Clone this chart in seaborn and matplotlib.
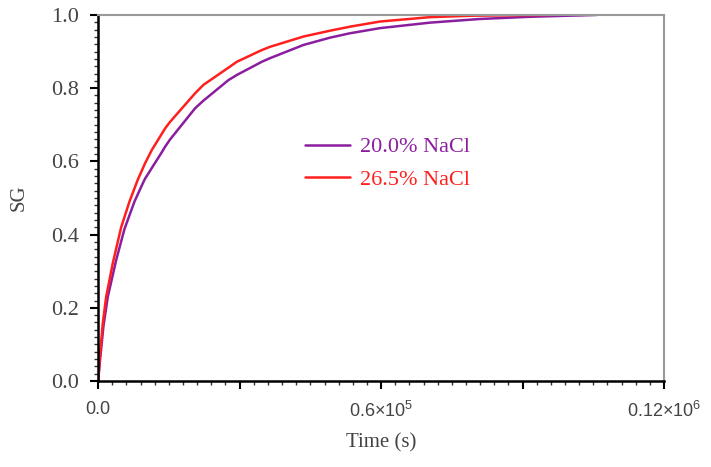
import numpy as np
import pandas as pd
import matplotlib
matplotlib.use("Agg")
import matplotlib.pyplot as plt
import seaborn as sns
from matplotlib.ticker import MultipleLocator, FixedLocator, FixedFormatter

# Data
time_20 = [0, 424, 1130, 2050, 3820, 5580, 7700, 9470, 9960, 13500, 14200, 15260, 20560, 22330,
           27630, 29400, 34700, 36460, 43530, 49180, 53420, 59780, 70380, 80980, 91580, 105700]
sg_20 = [0.0, 0.06, 0.15, 0.230, 0.330, 0.415, 0.490, 0.540, 0.553, 0.625, 0.640, 0.660, 0.745, 0.766,
         0.822, 0.836, 0.872, 0.882, 0.918, 0.938, 0.950, 0.964, 0.979, 0.989, 0.995, 1.0]
time_26 = [0, 424, 990, 1700, 3110, 4880, 6640, 8410, 9960, 11380, 14200, 15260, 20560, 22330,
           27630, 29400, 34700, 36460, 43530, 49180, 53420, 59780, 70380, 79500, 95800]
sg_26 = [0.0, 0.075, 0.158, 0.230, 0.322, 0.420, 0.490, 0.550, 0.595, 0.631, 0.690, 0.708, 0.786, 0.809,
         0.856, 0.872, 0.904, 0.913, 0.941, 0.957, 0.968, 0.982, 0.994, 0.998, 1.0]
series_names = ["20.0% NaCl", "26.5% NaCl"]
series_colors = ["#8B1E9E", "#FF1F1F"]
x_major_ticks = [0, 30000, 60000, 90000, 120000]
x_tick_labels = ["0.0", "", r"0.6$\times$10$^{5}$", "", r"0.12$\times$10$^{6}$"]
y_tick_values = [0.0, 0.2, 0.4, 0.6, 0.8, 1.0]

df = pd.concat([
    pd.DataFrame({"t": time_20, "sg": sg_20, "series": series_names[0]}),
    pd.DataFrame({"t": time_26, "sg": sg_26, "series": series_names[1]}),
])

sns.set_style("white")
plt.rcParams["font.family"] = ["Liberation Serif", "DejaVu Serif"]
plt.rcParams["mathtext.default"] = "regular"

fig = plt.figure(figsize=(7.11, 4.67), dpi=100)
ax = fig.add_axes([0.138, 0.184, 0.796, 0.784])

sns.lineplot(data=df, x="t", y="sg", hue="series", palette=series_colors,
             hue_order=series_names, ax=ax, linewidth=1.8, sort=False,
             estimator=None)
for ln in ax.get_lines():
    ln.set_solid_joinstyle("round")

ax.set_xlim(0, 120000)
ax.set_ylim(0, 1.0)

ax.xaxis.set_major_locator(FixedLocator(x_major_ticks))
ax.xaxis.set_major_formatter(FixedFormatter(x_tick_labels))
ax.xaxis.set_minor_locator(MultipleLocator(3000))
ax.yaxis.set_major_locator(FixedLocator(y_tick_values))
ax.set_yticklabels([f"{v:.1f}" for v in y_tick_values])
ax.yaxis.set_minor_locator(MultipleLocator(0.02))

ax.tick_params(axis="both", which="major", direction="out", length=6, width=1.5, color="black",
               bottom=True, left=True)
ax.tick_params(axis="both", which="minor", direction="out", length=3, width=1.0, color="#333333",
               bottom=True, left=True)
ax.tick_params(axis="y", labelsize=16, labelcolor="#444444", pad=8)
ax.tick_params(axis="x", labelsize=13, labelcolor="#444444", pad=8)
for lbl in ax.get_xticklabels():
    lbl.set_family(["Liberation Sans", "DejaVu Sans"])
for lbl in ax.get_yticklabels():
    lbl.set_family(["Liberation Serif", "DejaVu Serif"])

for s in ["left", "bottom"]:
    ax.spines[s].set_color("black")
    ax.spines[s].set_linewidth(1.8)
for s in ["top", "right"]:
    ax.spines[s].set_color("#999999")
    ax.spines[s].set_linewidth(1.5)

ax.set_xlabel("Time (s)", fontsize=15, color="#444444", labelpad=9)
ax.set_ylabel("SG", fontsize=15, color="#444444", labelpad=16)

leg = ax.legend(loc="upper left", bbox_to_anchor=(0.33, 0.722), frameon=False,
                fontsize=16, handlelength=2.05, handletextpad=0.45, labelspacing=0.55)
for txt, c in zip(leg.get_texts(), series_colors):
    txt.set_color(c)

fig.savefig("out.png", dpi=100)
